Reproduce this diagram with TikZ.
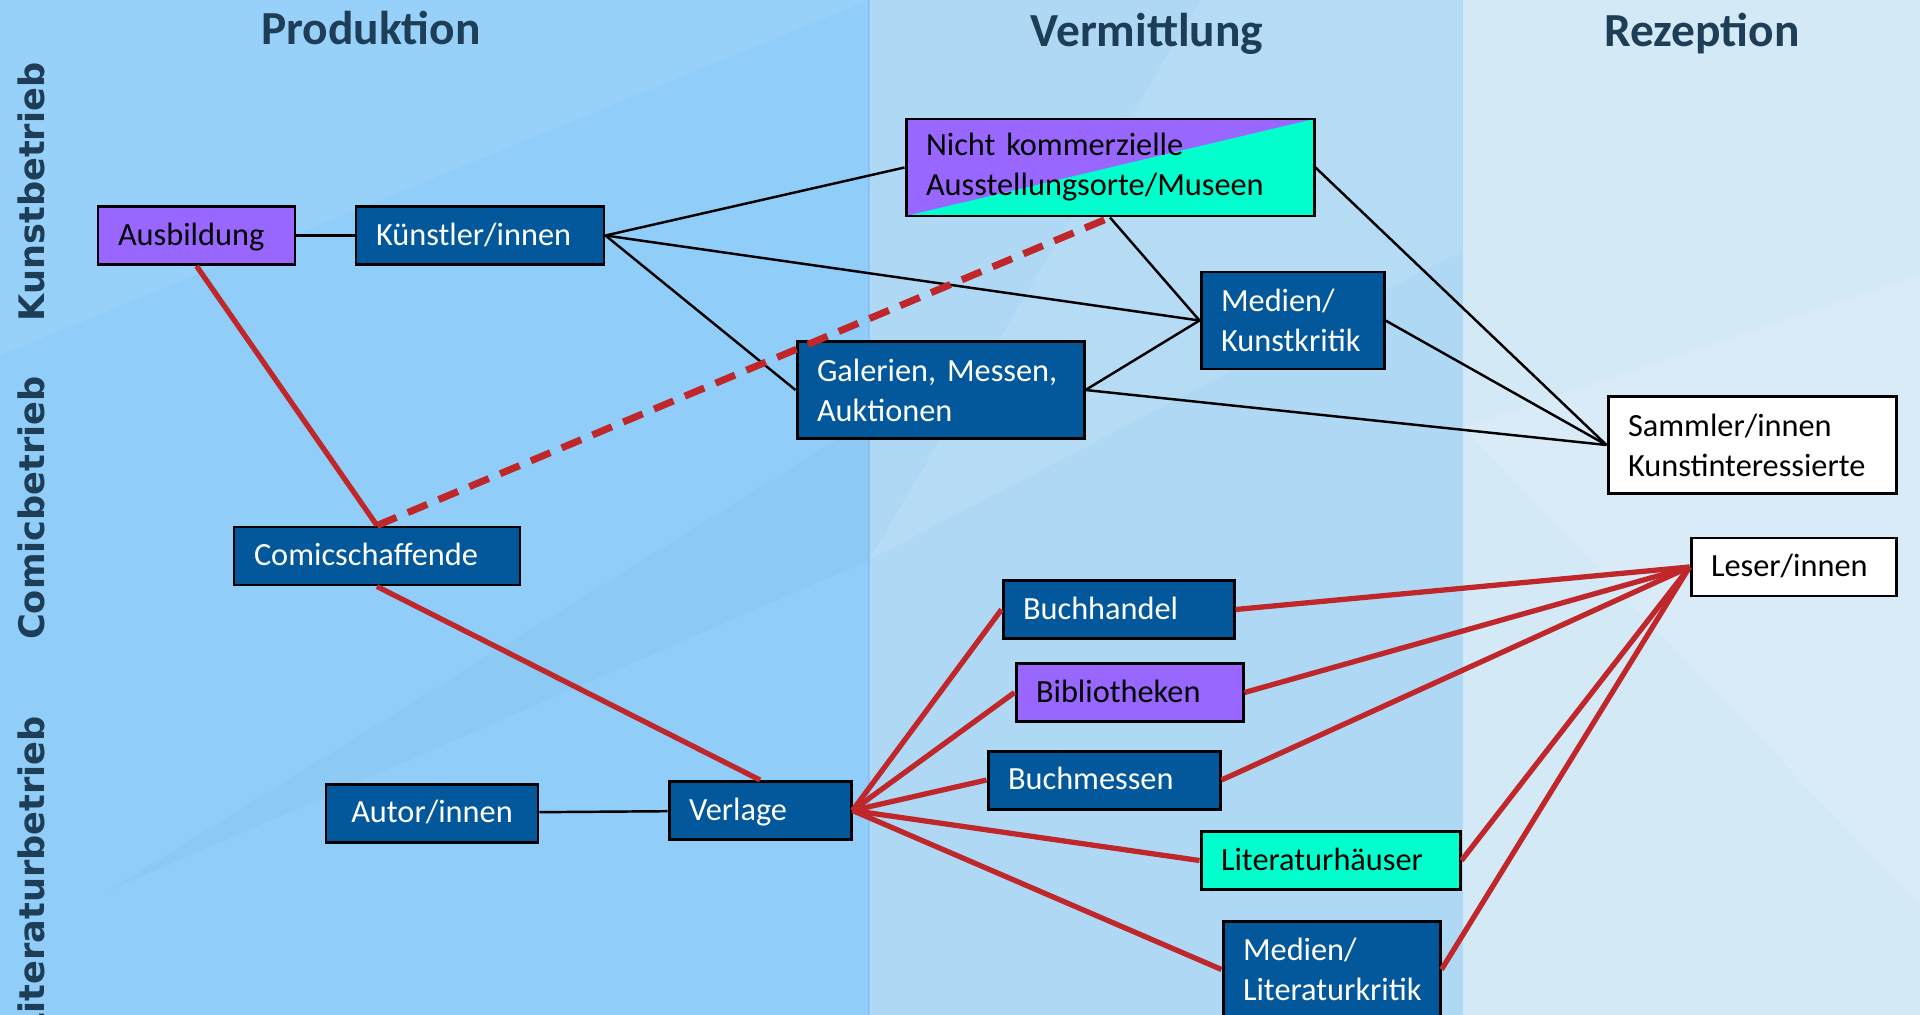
\documentclass[tikz,border=0pt]{standalone}
\usepackage{fontspec}
\setmainfont{Carlito}
\newfontfamily\sidefont{DejaVu Sans}
\frenchspacing

\definecolor{colprod}{HTML}{90CEF9}
\definecolor{colverm}{HTML}{AFD8F5}
\definecolor{colrez}{HTML}{D4E9F6}
\definecolor{boxblue}{HTML}{03589B}
\definecolor{boxlila}{HTML}{9966FF}
\definecolor{boxtuerkis}{HTML}{00FFCC}
\definecolor{linkred}{HTML}{C0272A}
\definecolor{headtext}{HTML}{1E3D56}

\begin{document}
\begin{tikzpicture}[x=0.1mm, y=-0.1mm,
    box/.style={draw, line width=0.85pt, inner xsep=2mm, inner ysep=0pt, align=left, font=\fontsize{9.2}{11.4}\selectfont},
    dunkel/.style={box, fill=boxblue, text=white},
    lila/.style={box, fill=boxlila},
    tuerkis/.style={box, fill=boxtuerkis},
    weiss/.style={box, fill=white},
    one/.style={minimum height=5.8mm, text height=2.6mm, text depth=0.7mm},
    two/.style={minimum height=9.7mm},
    link/.style={line width=0.7pt},
    redlink/.style={draw=linkred, line width=1.5pt},
    reddash/.style={draw=linkred, line width=2pt, dash pattern=on 6pt off 3.5pt},
    head/.style={anchor=base, text=headtext, font=\fontsize{13.5}{16}\selectfont\bfseries},
    side/.style={rotate=90, text=headtext, font=\sidefont\bfseries\fontsize{10}{12}\selectfont}
]
    \clip (0,0) rectangle (1920,1015);

    % Spalten
    \fill[colprod] (0,0) rectangle (869,1015);
    \fill[colverm] (869,0) rectangle (1463,1015);
    \fill[colrez] (1463,0) rectangle (1920,1015);
    \fill[white, opacity=0.07] (0,0) -- (869,0) -- (0,355) -- cycle;
    \fill[black, opacity=0.025] (110,890) -- (869,560) -- (869,420) -- cycle;
    \fill[white, opacity=0.08] (869,560) -- (1463,250) -- (1463,0) -- (1200,0) -- cycle;
    \fill[white, opacity=0.12] (1463,427) -- (1920,275) -- (1920,906) -- cycle;
    \draw[colprod!80!blue, opacity=0.4] (869,0) -- (869,1015);

    % Ueberschriften
    \node[head] (hprod) at (371,45) {Produktion};
    \node[head] (hverm) at (1147,47) {Vermittlung};
    \node[head] (hrez) at (1702,47) {Rezeption};
    \node[side] (skunst) at (31,192) {Kunstbetrieb};
    \node[side] (scomic) at (31,508) {Comicbetrieb};
    \node[side] (slit) at (31,876) {Literaturbetrieb};

    % Kunstbetrieb
    \node[lila, one, text width=15.7mm] (ausb) at (196.5,235.5) {Ausbildung};
    \node[dunkel, one, text width=20.8mm] (kuen) at (480,235.5) {Künstler/innen};
    \node[box, two, text width=36.8mm, fill=boxlila,
        path picture={\fill[boxtuerkis] (path picture bounding box.south west) -- (path picture bounding box.north east) -- (path picture bounding box.south east) -- cycle;}]
        (museen) at (1110,167.5) {Nicht kommerzielle\\Ausstellungsorte/Museen};
    \node[dunkel, two, text width=14.3mm] (kritik) at (1292.5,320.5) {Medien/\\Kunstkritik};
    \node[dunkel, two, text width=24.7mm] (galerien) at (940.5,390) {Galerien, Messen,\\Auktionen};
    \node[weiss, two, text width=24.8mm] (sammler) at (1752,445) {Sammler/innen\\Kunstinteressierte};

    % Comicbetrieb
    \node[dunkel, one, text width=24.6mm] (comic) at (377,556) {Comicschaffende};

    % Literaturbetrieb
    \node[weiss, one, text width=16.5mm] (leser) at (1793.5,567) {Leser/innen};
    \node[dunkel, one, text width=19.1mm] (handel) at (1118.5,609.5) {Buchhandel};
    \node[lila, one, text width=18.7mm] (biblio) at (1129.5,692.5) {Bibliotheken};
    \node[dunkel, one, text width=19.2mm] (bmesse) at (1104,780) {Buchmessen};
    \node[dunkel, one, text width=17.2mm, align=center] (autor) at (432,813) {Autor/innen};
    \node[dunkel, one, text width=14.2mm] (verlag) at (760,810.5) {Verlage};
    \node[tuerkis, one, text width=21.9mm] (lithaus) at (1330.5,860.5) {Literaturhäuser};
    \node[dunkel, two, text width=17.7mm] (litkritik) at (1331.5,969.5) {Medien/\\Literaturkritik};

    % Verbindungen Kunst
    \draw[link] (ausb) -- (kuen);
    \draw[link] (kuen.east) -- (museen.west);
    \draw[link] (kuen.east) -- (kritik.west);
    \draw[link] (kuen.east) -- (galerien.west);
    \draw[link] (museen.south) -- (kritik.west);
    \draw[link] (galerien.east) -- (kritik.west);
    \draw[link] (galerien.east) -- (sammler.west);
    \draw[link] (kritik.east) -- (sammler.west);
    \draw[link] (museen.east) -- (sammler.west);
    \draw[link] (autor) -- (verlag);

    % Verbindungen Comic
    \draw[redlink] (ausb.south) -- (comic.north);
    \draw[reddash] (comic.north) -- (museen.south);
    \draw[redlink] (comic.south) -- (verlag.north);

    % Verbindungen Literatur
    \foreach \n in {handel, biblio, bmesse, lithaus, litkritik} {
        \draw[redlink] (verlag.east) -- (\n.west);
        \draw[redlink] (\n.east) -- (leser.west);
    }
\end{tikzpicture}
\end{document}
